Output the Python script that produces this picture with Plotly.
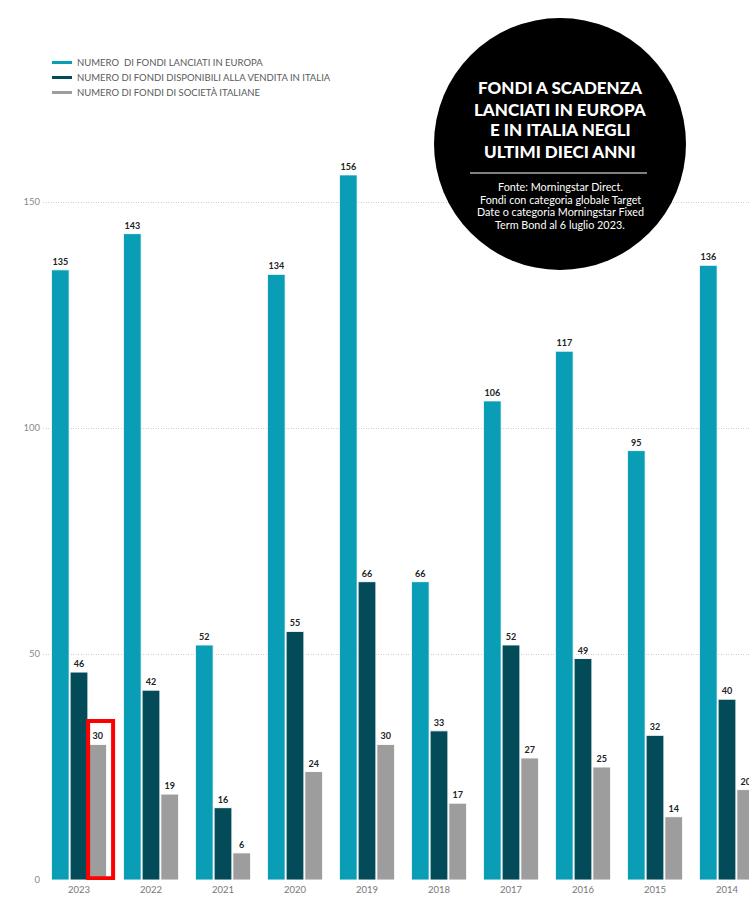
import plotly.graph_objects as go

# ---- data ----
anni = ["2023", "2022", "2021", "2020", "2019", "2018", "2017", "2016", "2015", "2014"]
fondi_europa = [135, 143, 52, 134, 156, 66, 106, 117, 95, 136]
fondi_italia = [46, 42, 16, 55, 66, 33, 52, 49, 32, 40]
fondi_societa_italiane = [30, 19, 6, 24, 30, 17, 27, 25, 14, 20]
serie_nomi = [
    "NUMERO  DI FONDI LANCIATI IN EUROPA",
    "NUMERO DI FONDI DISPONIBILI ALLA VENDITA IN ITALIA",
    "NUMERO DI FONDI DI SOCIETÀ ITALIANE",
]
y_ticks = [0, 50, 100, 150]
titolo = ["FONDI A SCADENZA", "LANCIATI IN EUROPA", "E IN ITALIA NEGLI", "ULTIMI DIECI ANNI"]
fonte = [
    "Fonte: Morningstar Direct.",
    "Fondi con categoria globale Target",
    "Date o categoria Morningstar Fixed",
    "Term Bond al 6 luglio 2023.",
]
evidenziato = ("2023", 2)  # (year, series index) highlighted with a red frame

colori = ["#0a9db6", "#034b59", "#9d9d9d"]

W, H = 749, 899
ML, MR, MT, MB = 43, 0, 0, 19
PX_PER_UNIT = 4.52
plot_w = W - ML - MR
plot_h = H - MT - MB
y_max = plot_h / PX_PER_UNIT
x_range = [-0.5, -0.5 + plot_w / 72.0]

def px2paper_x(px):
    return (px - ML) / plot_w

def px2paper_y(py):
    return (H - MB - py) / plot_h

fig = go.Figure()
series = [fondi_europa, fondi_italia, fondi_societa_italiane]
for nome, vals, col in zip(serie_nomi, series, colori):
    fig.add_trace(go.Bar(
        x=anni, y=vals, name=nome,
        marker=dict(color=col, line=dict(color="rgba(255,255,255,0.9)", width=1)),
        text=[str(v) for v in vals], textposition="outside",
        textfont=dict(family="Lato", size=9, color="#222222", weight="bold"),
        cliponaxis=False,
    ))

BARGAP = 0.22
BARGROUPGAP = 0.05
fig.update_layout(
    width=W, height=H,
    margin=dict(l=ML, r=MR, t=MT, b=MB),
    paper_bgcolor="white", plot_bgcolor="white",
    barmode="group", bargap=BARGAP, bargroupgap=BARGROUPGAP,
    showlegend=False,
    font=dict(family="Lato", color="#777777"),
    xaxis=dict(type="category", range=x_range, showgrid=False, zeroline=False,
               showline=False, ticks="", tickfont=dict(size=9.5, color="#777777"),
               automargin=False, ticklabelstandoff=2),
    yaxis=dict(range=[0, y_max], tickvals=y_ticks, showgrid=True,
               gridcolor="#cfcfcf", griddash="1px,1.5px", gridwidth=1,
               zeroline=False, showline=False, ticks="",
               tickfont=dict(size=9.5, color="#8a8a8a"), automargin=False,
               ticklabelstandoff=2),
)

# highlight frame around selected bar (computed from data)
yi = anni.index(evidenziato[0])
si = evidenziato[1]
group_w = 1 - BARGAP
slot = group_w / 3
cx = yi - group_w / 2 + slot * (si + 0.5)
half = slot * (1 - BARGROUPGAP) / 2
val = series[si][yi]
fig.add_shape(type="rect", xref="x", yref="y",
              x0=cx - half - 0.01, x1=cx + half + 0.09, y0=0.4, y1=val + 5.2,
              line=dict(color="#ff0000", width=4), fillcolor="rgba(0,0,0,0)",
              layer="above")

# custom legend (short thick lines)
leg_y = [62.5, 77.5, 92.5]
for nome, col, ly in zip(serie_nomi, colori, leg_y):
    fig.add_shape(type="line", xref="paper", yref="paper",
                  x0=px2paper_x(52), x1=px2paper_x(72), y0=px2paper_y(ly), y1=px2paper_y(ly),
                  line=dict(color=col, width=3))
    fig.add_annotation(xref="paper", yref="paper", x=px2paper_x(75), y=px2paper_y(ly),
                       text=nome, showarrow=False, xanchor="left", yanchor="middle",
                       font=dict(family="Lato", size=9.5, color="#5a5a5a"))

# black circle with title
cxp, cyp, r = 560, 144, 126
fig.add_shape(type="circle", xref="paper", yref="paper",
              x0=px2paper_x(cxp - r), x1=px2paper_x(cxp + r),
              y0=px2paper_y(cyp + r), y1=px2paper_y(cyp - r),
              fillcolor="black", line=dict(color="black", width=0), layer="above")
for i, riga in enumerate(titolo):
    fig.add_annotation(xref="paper", yref="paper", x=px2paper_x(cxp), y=px2paper_y(88 + 21 * i),
                       text=riga, showarrow=False, xanchor="center", yanchor="middle",
                       font=dict(family="Lato", size=17, color="white", weight=900))
fig.add_shape(type="line", xref="paper", yref="paper",
              x0=px2paper_x(470), x1=px2paper_x(647), y0=px2paper_y(173), y1=px2paper_y(173),
              line=dict(color="white", width=1), layer="above")
for i, riga in enumerate(fonte):
    fig.add_annotation(xref="paper", yref="paper", x=px2paper_x(cxp), y=px2paper_y(186.5 + 12.7 * i),
                       text=riga, showarrow=False, xanchor="center", yanchor="middle",
                       font=dict(family="Lato", size=10.8, color="white"))

fig.write_html("out.html", config={"displayModeBar": False},
               post_script="document.body.style.margin='0px';")
